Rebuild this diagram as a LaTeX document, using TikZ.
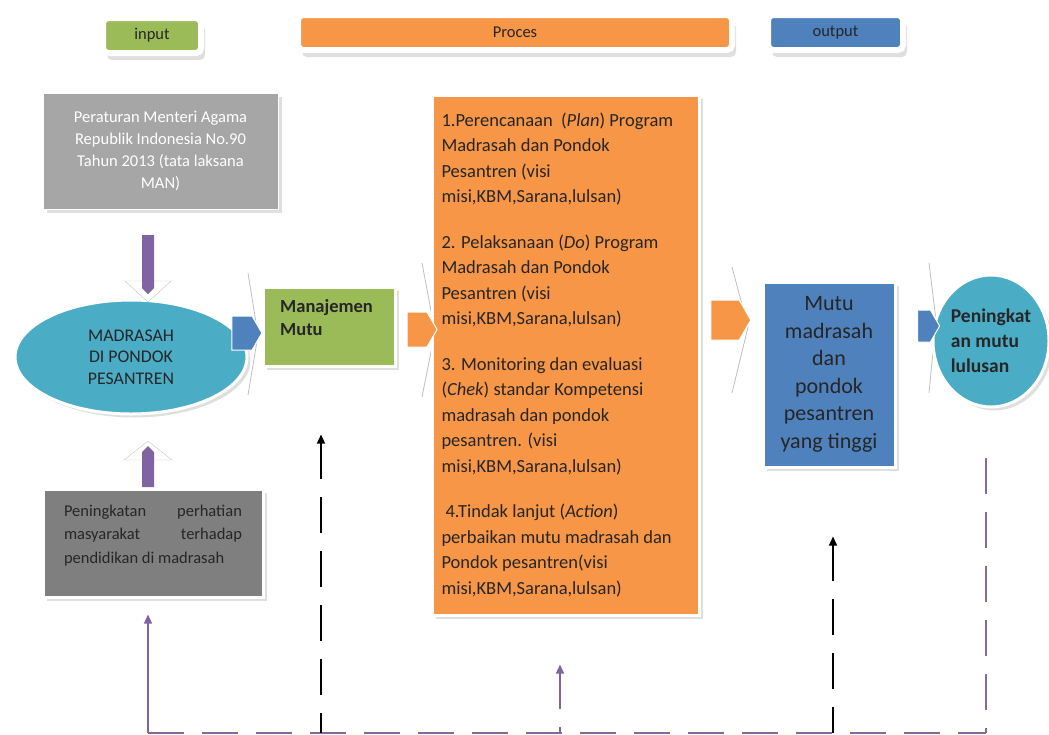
\documentclass[tikz,border=0pt]{standalone}
\usepackage{fontspec}
\setmainfont{Carlito}
\usepackage{xcolor}
\usepackage{tikz}
\usetikzlibrary{arrows.meta}
\usetikzlibrary{shadows}
\usetikzlibrary{shapes.geometric}
\usetikzlibrary{shapes.symbols}

\definecolor{hijau}{RGB}{155,187,89}
\definecolor{oranye}{RGB}{247,150,70}
\definecolor{biru}{RGB}{79,129,189}
\definecolor{toska}{RGB}{75,172,198}
\definecolor{ungu}{RGB}{128,100,162}
\definecolor{abumuda}{RGB}{166,166,166}
\definecolor{abutua}{RGB}{127,127,127}
\definecolor{tulisan}{RGB}{38,38,38}

\begin{document}
\begin{tikzpicture}[x=1pt, y=-1pt,
    kotak/.style={draw=white, line width=3pt, inner sep=0pt,
      drop shadow={shadow xshift=3.5pt, shadow yshift=-3.5pt, fill=black!25}},
    judul/.style={draw=white, line width=6pt, rounded corners=5pt, inner sep=0pt,
      text=tulisan, minimum height=35pt, font=\fontsize{16.5}{18}\selectfont,
      drop shadow={shadow xshift=4pt, shadow yshift=-7pt, fill=black!25}},
    panah/.style={signal, signal to=east, signal pointer angle=120,
      inner sep=0pt, draw=white, line width=1pt},
    garis/.style={line width=1.4pt, dash pattern=on 36pt off 18pt},
    ujung/.style={{Triangle[length=9pt, width=8pt]}-},
  ]

    \useasboundingbox (0,0) rectangle (1049,734);

    \node[judul, fill=hijau, minimum width=98pt] (input) at (152,35.5) {input};
    \node[judul, fill=oranye, minimum width=434pt] (proces) at (515,32.5) {Proces};
    \node[judul, fill=biru, minimum width=135pt] (output) at (835.5,32.5) {output};

    \foreach \xa/\ya/\xb/\yb/\yc in {248/273/258/335/395, 422/263/435/332/397,
      732/267/748/327/393, 929/263/936/320/393} {
      \draw[gray!50, line width=0.8pt] (\xa,\ya) -- (\xb,\yb) -- (\xa,\yc);
    }

    \node[kotak, line width=1pt, fill=abumuda, minimum width=235pt, minimum height=116pt,
      text=white, align=flush center, font=\fontsize{16.5}{22}\selectfont] (peraturan)
      at (160.5,151) {Peraturan Menteri Agama\\ Republik Indonesia No.90\\
      Tahun 2013 (tata laksana\\ MAN)};

    \node[kotak, ellipse, fill=toska, minimum width=232pt, minimum height=114pt,
      text=tulisan, align=flush center, font=\fontsize{17.8}{21.5}\selectfont] (madrasah)
      at (131,357) {MADRASAH\\ DI PONDOK\\ PESANTREN};

    \node[kotak, fill=hijau, minimum width=132pt, minimum height=79pt] (manajemen)
      at (329,326.5) {};
    \node[anchor=north west, align=flush left, inner sep=0pt, text=tulisan,
      font=\bfseries\fontsize{18.5}{23}\selectfont] (manajemen-teks) at (280,299)
      {Manajemen\\ Mutu};

    \node[kotak, fill=oranye, minimum width=267pt, minimum height=520pt, text width=248pt,
      align=flush left, text=tulisan, font=\fontsize{18.5}{25.5}\selectfont] (pdca)
      at (565.5,355)
      {1.Perencanaan\ \ (\textit{Plan}) Program\\ Madrasah dan Pondok\\ Pesantren (visi\\
      misi,KBM,Sarana,lulsan)\\[20pt]
      2. Pelaksanaan (\textit{Do}) Program\\ Madrasah dan Pondok\\ Pesantren (visi\\
      misi,KBM,Sarana,lulsan)\\[20pt]
      3. Monitoring dan evaluasi\\ (\textit{Chek}) standar Kompetensi\\
      madrasah dan pondok\\ pesantren. (visi\\ misi,KBM,Sarana,lulsan)\\[20pt]
      \hspace*{4pt}4.Tindak lanjut (\textit{Action})\\ perbaikan mutu madrasah dan\\
      Pondok pesantren(visi\\ misi,KBM,Sarana,lulsan)};

    \node[kotak, fill=biru, minimum width=132pt, minimum height=185pt, align=flush center,
      text=tulisan, font=\fontsize{22}{27.5}\selectfont] (mutu) at (829,374.5)
      {Mutu\\ madrasah\\ dan\\ pondok\\ pesantren\\ yang tinggi};

    \node[kotak, ellipse, fill=toska, minimum width=116pt, minimum height=132pt,
      align=flush left, text=tulisan, font=\bfseries\fontsize{19.5}{25}\selectfont] (lulusan)
      at (991,341) {Peningkat\\ an mutu\\ lulusan};

    \node[kotak, fill=abutua, minimum width=220pt, minimum height=108pt] (masyarakat)
      at (153,543) {};
    \node[text width=178pt, align=flush left, inner sep=0pt, text=tulisan,
      font=\fontsize{16.5}{23.5}\selectfont] (masyarakat-teks) at (153,535.5)
      {Peningkatan\hfill perhatian\\ masyarakat\hfill terhadap\\ pendidikan di madrasah};

    \foreach \nama/\warna/\x/\y/\w/\h in {panah1/biru/242/333/30/34,
      panah2/oranye/417/329.5/30/35, panah3/oranye/725/320/40/40,
      panah4/biru/924/326/22/32} {
      \node[panah, fill=\warna, minimum width=\w pt, minimum height=\h pt] (\nama)
        at (\x,\y) {};
    }

    \fill[white, draw=gray!45] (125,281) -- (171,281) -- (148,302) -- cycle;
    \fill[ungu] (142,235) -- (154,235) -- (154,288) -- (148,294) -- (142,288) -- cycle;
    \fill[white, draw=gray!45] (124,460) -- (172,460) -- (148,441) -- cycle;
    \fill[ungu] (142,487) -- (154,487) -- (154,452) -- (148,446) -- (142,452) -- cycle;

    \coordinate (b1) at (148,733);
    \coordinate (b2) at (321,733);
    \coordinate (b3) at (560,733);
    \coordinate (b4) at (833,733);
    \coordinate (b5) at (986,733);

    \draw[garis, ungu!70!gray] (b1) -- (b5);
    \draw[ujung, ungu, line width=1.2pt, shorten <=16pt] (b1 |- masyarakat.south) -- (b1);
    \draw[garis, ujung, black, shorten <=67pt] (b2 |- manajemen.south) -- (b2);
    \draw[garis, ujung, ungu, shorten <=48pt] (b3 |- pdca.south) -- (b3);
    \draw[garis, ujung, black, shorten <=68pt] (b4 |- mutu.south) -- (b4);
    \draw[garis, ungu!70!gray, shorten <=49pt] (b5 |- lulusan.south) -- (b5);

\end{tikzpicture}
\end{document}
